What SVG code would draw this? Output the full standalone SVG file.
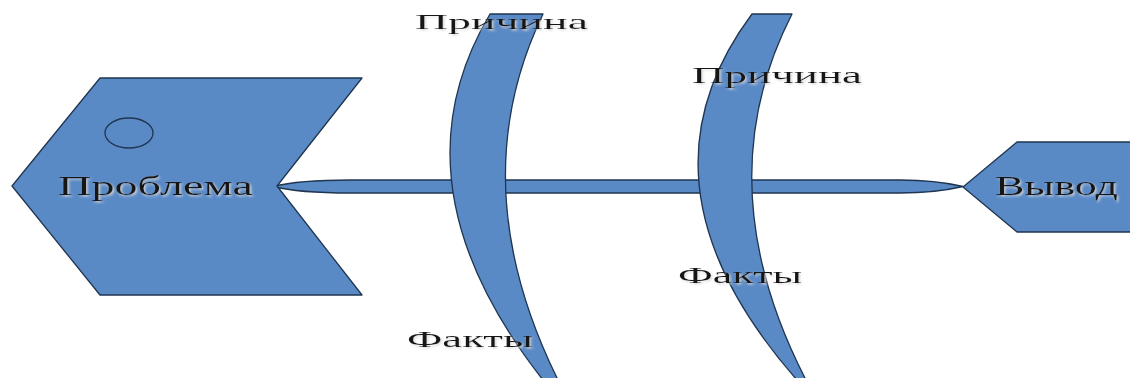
<svg xmlns="http://www.w3.org/2000/svg" width="1130" height="378" viewBox="0 0 1130 378">
  <defs>
    <filter id="shadow" x="-10%" y="-30%" width="120%" height="160%">
      <feDropShadow dx="1.5" dy="1.5" stdDeviation="0.8" flood-color="#d8d8d8" flood-opacity="0.9"/>
    </filter>
  </defs>
  <style>
    .shape { fill: #5a8ac6; stroke: #1f3550; stroke-width: 1.3; stroke-linejoin: round; }
    .outline { fill: none; stroke: #1f3550; stroke-width: 1.3; }
    .label { font-family: "Liberation Serif", "Times New Roman", serif; fill: #141414; filter: url(#shadow); }
  </style>
  <rect width="1130" height="378" fill="#ffffff"/>

  <g id="connectors">
    <path class="shape" d="M273,186.5 C295,181 320,180 350,180 L900,180 C930,180 948,183 963,186.5 C948,190 930,193 900,193 L350,193 C320,193 295,192 273,186.5 Z"/>
  </g>

  <g id="problem">
    <polygon class="shape" points="100,78 362,78 277,186 362,295 100,295 12,186"/>
    <ellipse class="outline" cx="129" cy="133" rx="24" ry="15"/>
    <text class="label" x="58" y="195" font-size="27" textLength="195" lengthAdjust="spacingAndGlyphs">Проблема</text>
  </g>

  <g id="conclusion">
    <polygon class="shape" points="1017,142 1136,142 1136,232 1017,232 963,187"/>
    <text class="label" x="995" y="195" font-size="27" textLength="123" lengthAdjust="spacingAndGlyphs">Вывод</text>
  </g>

  <g id="cause1">
    <path class="shape" d="M490,14 Q389,184 543,380 L558,380 Q461,184 543,14 Z"/>
    <text class="label" x="415" y="29" font-size="22" textLength="173" lengthAdjust="spacingAndGlyphs">Причина</text>
    <text class="label" x="407" y="347" font-size="24" textLength="126" lengthAdjust="spacingAndGlyphs">Факты</text>
  </g>

  <g id="cause2">
    <path class="shape" d="M752,14 Q625,184 797,380 L806,380 Q705,184 792,14 Z"/>
    <text class="label" x="692" y="83" font-size="24" textLength="170" lengthAdjust="spacingAndGlyphs">Причина</text>
    <text class="label" x="678" y="283" font-size="24" textLength="124" lengthAdjust="spacingAndGlyphs">Факты</text>
  </g>
</svg>
